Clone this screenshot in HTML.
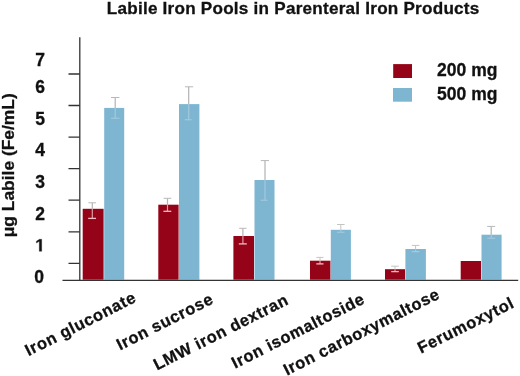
<!DOCTYPE html>
<html><head><meta charset="utf-8">
<style>
html,body{margin:0;padding:0;background:#fff;}
body{width:520px;height:376px;overflow:hidden;position:relative;}
svg{position:absolute;left:0;top:0;display:block;will-change:transform;}
text{font-family:"Liberation Sans",sans-serif;font-weight:bold;fill:#111;stroke:#111;stroke-width:0.3px;}
</style></head><body>
<svg width="520" height="376" viewBox="0 0 520 376">
<rect x="0" y="0" width="520" height="376" fill="#fff"/>
<!-- title -->
<text x="106.8" y="14.2" font-size="17.1" letter-spacing="0.24">Labile Iron Pools in Parenteral Iron Products</text>

<!-- y axis labels -->
<g font-size="17.5">
<text x="35.2" y="65.7">7</text>
<text x="35.2" y="93.0">6</text>
<text x="35.2" y="124.5">5</text>
<text x="35.2" y="156.1">4</text>
<text x="35.2" y="187.7">3</text>
<text x="35.2" y="219.7">2</text>
<path transform="translate(35.2,251.3) scale(0.008545,-0.008545)" d="M478 0V1170L140 959V1180L493 1409H759V0Z" fill="#111" stroke="#111" stroke-width="0.3" vector-effect="non-scaling-stroke"/>
<text x="34.3" y="283.0">0</text>
</g>
<text font-size="17.4" transform="translate(14.4,237.3) rotate(-90)">&#956;g Labile (Fe/mL)</text>

<!-- bars -->
<g id="bars">
<rect x="82.7" y="208.8" width="20.9" height="70.9" fill="#950318"/>
<rect x="104.2" y="107.9" width="20" height="171.8" fill="#7eb6d2"/>
<rect x="158.3" y="204.7" width="20.3" height="75" fill="#950318"/>
<rect x="179" y="104.1" width="20.4" height="175.6" fill="#7eb6d2"/>
<rect x="233.4" y="236" width="20.6" height="43.7" fill="#950318"/>
<rect x="254.5" y="180" width="20" height="99.7" fill="#7eb6d2"/>
<rect x="310" y="260.7" width="20.5" height="19" fill="#950318"/>
<rect x="330.8" y="229.8" width="20.1" height="49.9" fill="#7eb6d2"/>
<rect x="385" y="269.2" width="20" height="10.5" fill="#950318"/>
<rect x="405.4" y="249" width="20.5" height="30.7" fill="#7eb6d2"/>
<rect x="460.7" y="261" width="20.3" height="18.7" fill="#950318"/>
<rect x="481.5" y="234.7" width="20.1" height="45" fill="#7eb6d2"/>
</g>

<!-- error bars: upper (grey) -->
<g stroke="#b3b3b3" stroke-width="1.2" fill="none">
<path d="M92.3 202.8V208.8"/><path d="M115.2 97.5V107.9"/>
<path d="M167.5 198.3V204.7"/><path d="M188.7 86.8V104.1"/>
<path d="M242.9 228.3V236"/><path d="M265 160.6V180"/>
<path d="M491.2 226.4V234.7"/>
</g>
<g stroke="#b8b8b8" stroke-width="1" fill="none">
<path d="M88.4 202.8H96"/><path d="M111 97.5H119.4"/>
<path d="M163.6 198.3H171.3"/><path d="M185 86.8H193.2"/>
<path d="M239.2 228.3H246.6"/><path d="M260.8 160.6H269"/>
<path d="M487.2 226.4H495.2"/>
</g>
<g stroke="#c4c4c4" stroke-width="1" fill="none">
<path d="M320 257.4V260.7 M316.3 257.4H323.5"/>
<path d="M340.8 224.5V229.8 M337 224.5H344.6"/>
<path d="M395 266.2V269.2 M391.2 266.2H398.8"/>
<path d="M415.6 245.4V249 M411.8 245.4H419.4"/>
</g>
<!-- error bars: lower (light) -->
<g stroke="#e39aa6" stroke-width="1.2" fill="none">
<path d="M92.3 208.8V218.4"/>
<path d="M167.5 204.7V211.3"/>
<path d="M242.9 236V243.9"/>
<path d="M320 260.7V263.9"/>
<path d="M395 269.2V271.6"/>
</g>
<g stroke="#f2bcc4" stroke-width="1.3" fill="none">
<path d="M88.2 218.4H96"/>
<path d="M163.4 211.3H171.3"/>
<path d="M238.8 243.9H246.8"/>
<path d="M316.3 263.9H323.5"/>
<path d="M391.2 271.6H398.8"/>
</g>
<g stroke="#a6c9dd" stroke-width="1.1" fill="none">
<path d="M115.2 107.9V118.2 M111 118.2H119.4"/>
<path d="M188.7 104.1V119.7 M184.8 119.7H191.8"/>
<path d="M265 180V200.3 M260.7 200.3H267.5"/>
<path d="M340.8 229.8V232.2 M337 232.2H344.6"/>
<path d="M415.6 249V251.6 M411.8 251.6H419.4"/>
<path d="M491.2 234.7V238.2 M487.2 238.2H495.2"/>
</g>

<!-- axes -->
<g stroke="#333" stroke-width="1.3" fill="none">
<path d="M79.8 37.2V280.6"/>
<path d="M62.5 280.4H518.2"/>
<path d="M68.5 74H79.8 M68.5 105.5H79.8 M68.5 137.1H79.8 M68.5 168.6H79.8 M68.5 200.2H79.8 M68.5 231.8H79.8 M68.5 263.4H79.8"/>
</g>

<!-- legend -->
<rect x="393.2" y="64.1" width="18.8" height="13.9" fill="#950318"/>
<rect x="393" y="88" width="19" height="13.7" fill="#7eb6d2"/>
<text x="437.1" y="75.5" font-size="17.5">200 mg</text>
<text x="437.1" y="99.9" font-size="17.5">500 mg</text>

<!-- x labels -->
<g font-size="16.4" letter-spacing="0.65" text-anchor="end">
<text transform="translate(137.4,301.2) rotate(-26.8)">Iron gluconate</text>
<text transform="translate(214.8,302.6) rotate(-26.8)">Iron sucrose</text>
<text transform="translate(289.8,303.5) rotate(-26.8)">LMW iron dextran</text>
<text transform="translate(366.1,302.6) rotate(-26.8)">Iron isomaltoside</text>
<text transform="translate(441,297.8) rotate(-26.8)">Iron carboxymaltose</text>
<text transform="translate(515.4,306.6) rotate(-26.5)">Ferumoxytol</text>
</g>
</svg>
</body></html>
